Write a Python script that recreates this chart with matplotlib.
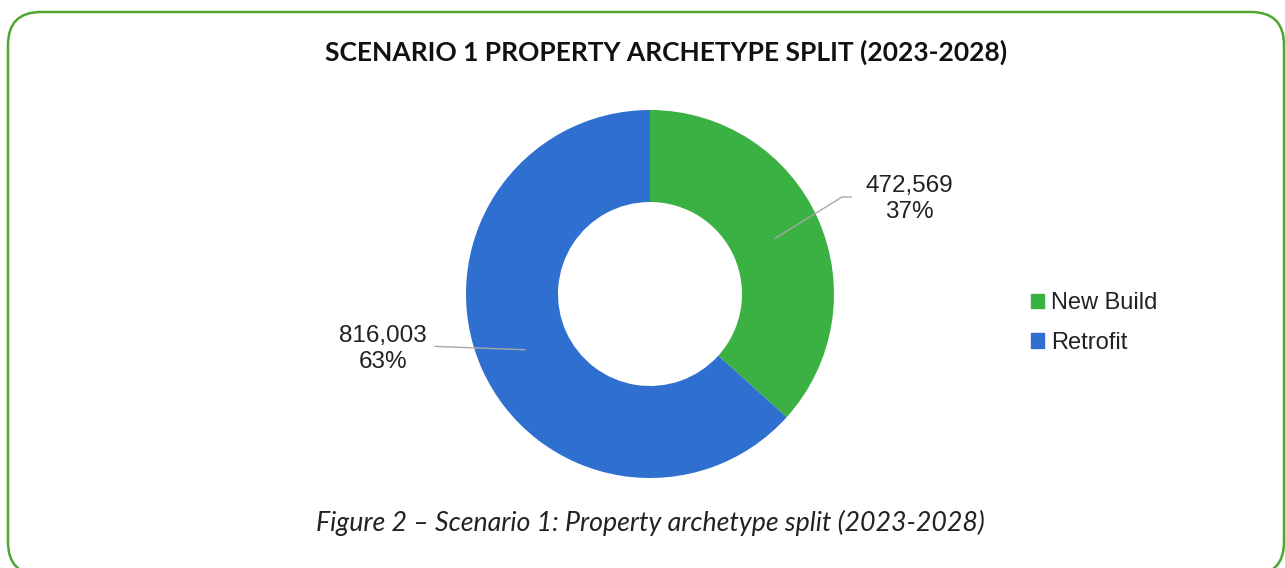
import numpy as np
import matplotlib.pyplot as plt
from matplotlib.patches import FancyBboxPatch

# chart data
categories = ['New Build', 'Retrofit']
values = [472569, 816003]
colors = ['#3bb143', '#2e6fd0']

title = 'SCENARIO 1 PROPERTY ARCHETYPE SPLIT (2023-2028)'
caption = 'Figure 2 \u2013 Scenario 1: Property archetype split (2023-2028)'

W, H = 1285, 568
fig = plt.figure(figsize=(W / 100, H / 100), dpi=100)

# overlay axes in pixel units (y measured from the top) for the frame and texts
bg = fig.add_axes([0, 0, 1, 1])
bg.set_xlim(0, W)
bg.set_ylim(0, H)
bg.axis('off')
frame = FancyBboxPatch((8, H - 575), 1276, 563, boxstyle='round,pad=0,rounding_size=33',
                       facecolor='none', edgecolor='#4ea72e', linewidth=1.8, clip_on=False)
bg.add_patch(frame)
bg.text(666, H - 52, title, ha='center', va='center', fontsize=19, fontweight='bold',
        family='Lato', color='#111111')
bg.text(650, H - 523, caption, ha='center', va='center', fontsize=19.3, style='italic',
        family='Lato', color='#222222')

# donut
cx, cy, r = 650, 294, 184
pie_ax = fig.add_axes([(cx - r) / W, 1 - (cy + r) / H, 2 * r / W, 2 * r / H])
wedges, _ = pie_ax.pie(values, colors=colors, startangle=90, counterclock=False,
                       wedgeprops=dict(width=0.5, edgecolor='none'))
pie_ax.set_xlim(-1, 1)
pie_ax.set_ylim(-1, 1)
pie_ax.set_aspect('equal')
pie_ax.axis('off')

total = sum(values)
label_font = dict(family='Liberation Sans', fontsize=17.5, color='#222222')
label_pos = [(1.41, 0.516), (-1.45, -0.30)]
elbow = [(1.043, 0.527), None]
for w, v, (lx, ly), el in zip(wedges, values, label_pos, elbow):
    ang = np.deg2rad((w.theta1 + w.theta2) / 2)
    sx, sy = 0.745 * np.cos(ang), 0.745 * np.sin(ang)
    if el is not None:
        xs = [sx, el[0], el[0] + 0.05]
        ys = [sy, el[1], el[1]]
    else:
        xs = [sx, -1.168]
        ys = [sy, sy + 0.018]
    pie_ax.plot(xs, ys, color='#a8a8a8', lw=1.0, clip_on=False)
    pie_ax.text(lx, ly, f'{v:,}\n{v / total:.0%}', ha='center', va='center',
                linespacing=1.25, clip_on=False, **label_font)

# legend
handles = [plt.Rectangle((0, 0), 1, 1, color=c) for c in colors]
fig.legend(handles, categories, loc='center left', bbox_to_anchor=(1010 / W, 1 - 323 / H),
           frameon=False, prop=dict(family='Liberation Sans', size=17),
           handlelength=0.55, handleheight=0.55, handletextpad=0.3, labelspacing=0.75,
           labelcolor='#222222')

fig.savefig('out.png', dpi=100)
